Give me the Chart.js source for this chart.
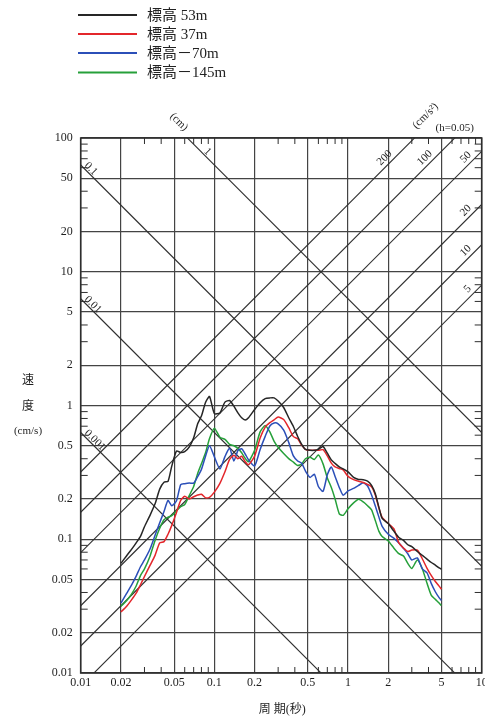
<!DOCTYPE html>
<html>
<head>
<meta charset="utf-8">
<script src="https://cdn.jsdelivr.net/npm/chart.js"></script>
<style>
  html, body { margin: 0; padding: 0; background: #fff; }
  #wrap { position: relative; width: 485px; height: 720px; }
</style>
</head>
<body>
<div id="wrap"><canvas id="spectrum"></canvas></div>
<script>
// period (s)
const periods = [
  0.020, 0.022, 0.024, 0.026, 0.028, 0.030, 0.033, 0.036, 0.039, 0.042,
  0.045, 0.048, 0.052, 0.056, 0.060, 0.065, 0.070, 0.075, 0.080, 0.086,
  0.092, 0.10, 0.11, 0.12, 0.13, 0.14, 0.15, 0.16, 0.17, 0.18,
  0.20, 0.22, 0.24, 0.26, 0.28, 0.30, 0.33, 0.36, 0.39, 0.42,
  0.45, 0.48, 0.52, 0.56, 0.60, 0.65, 0.70, 0.75, 0.80, 0.86,
  0.92, 1.0, 1.1, 1.2, 1.3, 1.4, 1.5, 1.6, 1.7, 1.8,
  2.0, 2.2, 2.4, 2.6, 2.8, 3.0, 3.3, 3.6, 3.9, 4.2,
  4.5, 4.8, 5.0
];

// velocity response (cm/s), one list per station
const vel53 = [
  0.066, 0.075, 0.084, 0.094, 0.105, 0.124, 0.151, 0.184, 0.237, 0.267,
  0.271, 0.352, 0.456, 0.446, 0.452, 0.49, 0.573, 0.73, 0.833, 1.058,
  1.168, 0.87, 0.88, 1.06, 1.09, 0.988, 0.882, 0.81, 0.779, 0.81,
  0.934, 1.05, 1.127, 1.14, 1.14, 1.08, 0.966, 0.81, 0.697, 0.587,
  0.512, 0.469, 0.462, 0.462, 0.47, 0.494, 0.44, 0.392, 0.369, 0.347,
  0.336, 0.319, 0.29, 0.28, 0.279, 0.272, 0.253, 0.219, 0.174, 0.143,
  0.131, 0.115, 0.103, 0.098, 0.091, 0.088, 0.081, 0.0757, 0.071, 0.067,
  0.064, 0.061, 0.0597
];
const vel37 = [
  0.0286, 0.0314, 0.0352, 0.0395, 0.0457, 0.0527, 0.0637, 0.0758, 0.094, 0.096,
  0.109, 0.127, 0.158, 0.195, 0.210, 0.20, 0.208, 0.214, 0.217, 0.204,
  0.206, 0.225, 0.262, 0.32, 0.395, 0.424, 0.40, 0.417, 0.38, 0.36,
  0.418, 0.571, 0.69, 0.744, 0.782, 0.82, 0.785, 0.682, 0.585, 0.565,
  0.505, 0.47, 0.462, 0.463, 0.462, 0.467, 0.42, 0.371, 0.348, 0.338,
  0.33, 0.295, 0.279, 0.271, 0.266, 0.257, 0.247, 0.214, 0.172, 0.146,
  0.131, 0.12, 0.094, 0.086, 0.081, 0.083, 0.083, 0.0712, 0.0606, 0.0534,
  0.0483, 0.0446, 0.0423
];
const velM70 = [
  0.0333, 0.0392, 0.0454, 0.053, 0.0623, 0.070, 0.0845, 0.107, 0.133, 0.161,
  0.195, 0.178, 0.193, 0.256, 0.26, 0.263, 0.263, 0.294, 0.333, 0.42,
  0.50, 0.413, 0.335, 0.415, 0.48, 0.385, 0.461, 0.475, 0.434, 0.393,
  0.353, 0.469, 0.588, 0.703, 0.74, 0.73, 0.655, 0.53, 0.42, 0.385,
  0.37, 0.324, 0.29, 0.306, 0.248, 0.228, 0.303, 0.347, 0.295, 0.244,
  0.213, 0.23, 0.24, 0.253, 0.264, 0.25, 0.214, 0.177, 0.147, 0.125,
  0.109, 0.102, 0.0936, 0.0853, 0.0779, 0.070, 0.0725, 0.06, 0.056, 0.0466,
  0.0405, 0.0366, 0.0349
];
const velM145 = [
  0.0315, 0.0347, 0.0389, 0.0447, 0.0535, 0.060, 0.0747, 0.098, 0.121, 0.14,
  0.146, 0.15, 0.163, 0.175, 0.182, 0.213, 0.248, 0.31, 0.367, 0.445,
  0.567, 0.677, 0.58, 0.558, 0.512, 0.50, 0.478, 0.443, 0.403, 0.38,
  0.463, 0.635, 0.71, 0.635, 0.54, 0.487, 0.437, 0.401, 0.377, 0.356,
  0.365, 0.40, 0.41, 0.395, 0.427, 0.366, 0.287, 0.244, 0.2, 0.155,
  0.151, 0.169, 0.187, 0.199, 0.19, 0.178, 0.166, 0.138, 0.115, 0.105,
  0.097, 0.086, 0.078, 0.075, 0.066, 0.0605, 0.070, 0.06, 0.0468, 0.038,
  0.0355, 0.0334, 0.0319
];

const seriesNames = ['標高 53m', '標高 37m', '標高－70m', '標高－145m'];
const seriesColors = ['#262626', '#e3262b', '#2b4fb8', '#26a03a'];

const xTickValues = [0.01, 0.02, 0.05, 0.1, 0.2, 0.5, 1, 2, 5, 10];
const xTickLabels = ['0.01', '0.02', '0.05', '0.1', '0.2', '0.5', '1', '2', '5', '10'];
const yTickValues = [0.01, 0.02, 0.05, 0.1, 0.2, 0.5, 1, 2, 5, 10, 20, 50, 100];
const yTickLabels = ['0.01', '0.02', '0.05', '0.1', '0.2', '0.5', '1', '2', '5', '10', '20', '50', '100'];
const minorMultiples = [3, 4, 6, 7, 8, 9];

// tripartite guide lines
const dispLines = [0.001, 0.01, 0.1, 1];         // displacement, cm
const dispLabels = ['0.001', '0.01', '0.1', '1'];
const accLines = [5, 10, 20, 50, 100, 200];      // acceleration, cm/s²
const accLabels = ['5', '10', '20', '50', '100', '200'];

const serif = '"Liberation Serif", "DejaVu Serif", serif';
const jpFont = '"Liberation Serif", "Noto Sans CJK JP", serif';
const R2 = Math.SQRT1_2;

function drawRotated(ctx, text, cx, cy, angle, align) {
    ctx.save();
    ctx.translate(cx, cy);
    ctx.rotate(angle);
    ctx.textAlign = align;
    ctx.textBaseline = 'middle';
    ctx.fillText(text, 0, 0);
    ctx.restore();
}

// where a guide line enters the plot (top edge or left/right edge)
function dispEntry(d, x, y) {
    const v0 = 2 * Math.PI * d / x.min;
    if (v0 <= y.max) return { px: x.getPixelForValue(x.min), py: y.getPixelForValue(v0), top: false };
    const t = 2 * Math.PI * d / y.max;
    return { px: x.getPixelForValue(t), py: y.getPixelForValue(y.max), top: true };
}
function accEntry(a, x, y) {
    const v1 = a * x.max / (2 * Math.PI);
    if (v1 <= y.max) return { px: x.getPixelForValue(x.max), py: y.getPixelForValue(v1), top: false };
    const t = 2 * Math.PI * y.max / a;
    return { px: x.getPixelForValue(t), py: y.getPixelForValue(y.max), top: true };
}

const tripartitePlugin = {
    id: 'tripartite',
    beforeDatasetsDraw(chart) {
        const { ctx, chartArea: a, scales: { x, y } } = chart;
        ctx.save();
        ctx.beginPath();
        ctx.rect(a.left, a.top, a.right - a.left, a.bottom - a.top);
        ctx.clip();
        ctx.strokeStyle = '#2e2e2e';
        ctx.lineWidth = 1.1;
        dispLines.forEach(d => {
            ctx.beginPath();
            ctx.moveTo(x.getPixelForValue(x.min), y.getPixelForValue(2 * Math.PI * d / x.min));
            ctx.lineTo(x.getPixelForValue(x.max), y.getPixelForValue(2 * Math.PI * d / x.max));
            ctx.stroke();
        });
        accLines.forEach(acc => {
            ctx.beginPath();
            ctx.moveTo(x.getPixelForValue(x.min), y.getPixelForValue(acc * x.min / (2 * Math.PI)));
            ctx.lineTo(x.getPixelForValue(x.max), y.getPixelForValue(acc * x.max / (2 * Math.PI)));
            ctx.stroke();
        });
        ctx.restore();
    },
    afterDraw(chart) {
        const { ctx, chartArea: a, scales: { x, y } } = chart;
        ctx.save();

        // frame and inward minor ticks
        ctx.strokeStyle = '#2e2e2e';
        ctx.lineWidth = 1.6;
        ctx.strokeRect(a.left, a.top, a.right - a.left, a.bottom - a.top);
        ctx.lineWidth = 1;
        ctx.beginPath();
        [0.01, 0.1, 1].forEach(dec => minorMultiples.forEach(m => {
            const px = x.getPixelForValue(m * dec);
            ctx.moveTo(px, a.bottom); ctx.lineTo(px, a.bottom - 6);
            ctx.moveTo(px, a.top); ctx.lineTo(px, a.top + 6);
        }));
        [0.01, 0.1, 1, 10].forEach(dec => minorMultiples.forEach(m => {
            const py = y.getPixelForValue(m * dec);
            ctx.moveTo(a.left, py); ctx.lineTo(a.left + 7, py);
            ctx.moveTo(a.right, py); ctx.lineTo(a.right - 7, py);
        }));
        ctx.stroke();

        // tick labels
        ctx.fillStyle = '#1e1e1e';
        ctx.font = '12px ' + serif;
        ctx.textAlign = 'center';
        ctx.textBaseline = 'middle';
        xTickValues.forEach((v, i) => ctx.fillText(xTickLabels[i], x.getPixelForValue(v), a.bottom + 10));
        ctx.textAlign = 'right';
        yTickValues.forEach((v, i) => ctx.fillText(yTickLabels[i], a.left - 8, y.getPixelForValue(v)));

        // guide line labels
        ctx.font = '11px ' + serif;
        dispLines.forEach((d, i) => {
            const e = dispEntry(d, x, y);
            const s = e.top ? 21 : 3;
            drawRotated(ctx, dispLabels[i], e.px + s * R2 + 4.5 * R2, e.py + s * R2 - 4.5 * R2, Math.PI / 4, 'left');
            if (d === 1) {
                drawRotated(ctx, '(cm)', e.px - 17.4 * R2 + 5.2 * R2, e.py - 17.4 * R2 - 5.2 * R2, Math.PI / 4, 'center');
            }
        });
        accLines.forEach((acc, i) => {
            const e = accEntry(acc, x, y);
            const s = e.top ? 27 : 10;
            drawRotated(ctx, accLabels[i], e.px - s * R2 - 7 * R2, e.py + s * R2 - 7 * R2, -Math.PI / 4, 'right');
            if (acc === 200) {
                drawRotated(ctx, '(cm/s²)', e.px + 23.3 * R2 - 7.8 * R2, e.py - 23.3 * R2 - 7.8 * R2, -Math.PI / 4, 'center');
            }
        });
        ctx.textAlign = 'center';
        ctx.textBaseline = 'middle';
        ctx.fillText('(h=0.05)', a.right - 27, a.top - 10);

        // axis titles
        ctx.font = '12px ' + jpFont;
        ctx.fillText('周 期(秒)', (a.left + a.right) / 2 + 1, 710);
        ctx.fillText('速', 28, 381);
        ctx.fillText('度', 28, 407);
        ctx.font = '11px ' + serif;
        ctx.fillText('(cm/s)', 28, 431);

        // legend
        const legendY = [15, 34, 53, 72.5];
        ctx.font = '15px ' + jpFont;
        ctx.textAlign = 'left';
        seriesNames.forEach((name, i) => {
            ctx.strokeStyle = seriesColors[i];
            ctx.lineWidth = 1.8;
            ctx.beginPath();
            ctx.moveTo(78, legendY[i]);
            ctx.lineTo(137, legendY[i]);
            ctx.stroke();
            ctx.fillStyle = '#222';
            ctx.fillText(name, 147, legendY[i] + 1);
        });
        ctx.restore();
    }
};

const seriesValues = [vel53, vel37, velM70, velM145];

new Chart(document.getElementById('spectrum'), {
    type: 'line',
    data: {
        datasets: seriesValues.map((vals, i) => ({
            label: seriesNames[i],
            data: periods.map((t, j) => ({ x: t, y: vals[j] })),
            borderColor: seriesColors[i],
            borderWidth: 1.5,
            pointRadius: 0,
            tension: 0.2,
            fill: false
        }))
    },
    options: {
        responsive: true,
        maintainAspectRatio: false,
        animation: false,
        layout: { padding: { left: 80.7, right: 3.3, top: 138, bottom: 47 } },
        plugins: { legend: { display: false }, tooltip: { enabled: false } },
        scales: {
            x: {
                type: 'logarithmic',
                min: 0.01,
                max: 10,
                afterBuildTicks: axis => { axis.ticks = xTickValues.map(v => ({ value: v })); },
                ticks: { display: false },
                grid: { color: '#444', lineWidth: 1.2, drawTicks: false },
                border: { display: false }
            },
            y: {
                type: 'logarithmic',
                min: 0.01,
                max: 100,
                afterBuildTicks: axis => { axis.ticks = yTickValues.map(v => ({ value: v })); },
                ticks: { display: false },
                grid: { color: '#444', lineWidth: 1.2, drawTicks: false },
                border: { display: false }
            }
        }
    },
    plugins: [tripartitePlugin]
});
</script>
</body>
</html>
